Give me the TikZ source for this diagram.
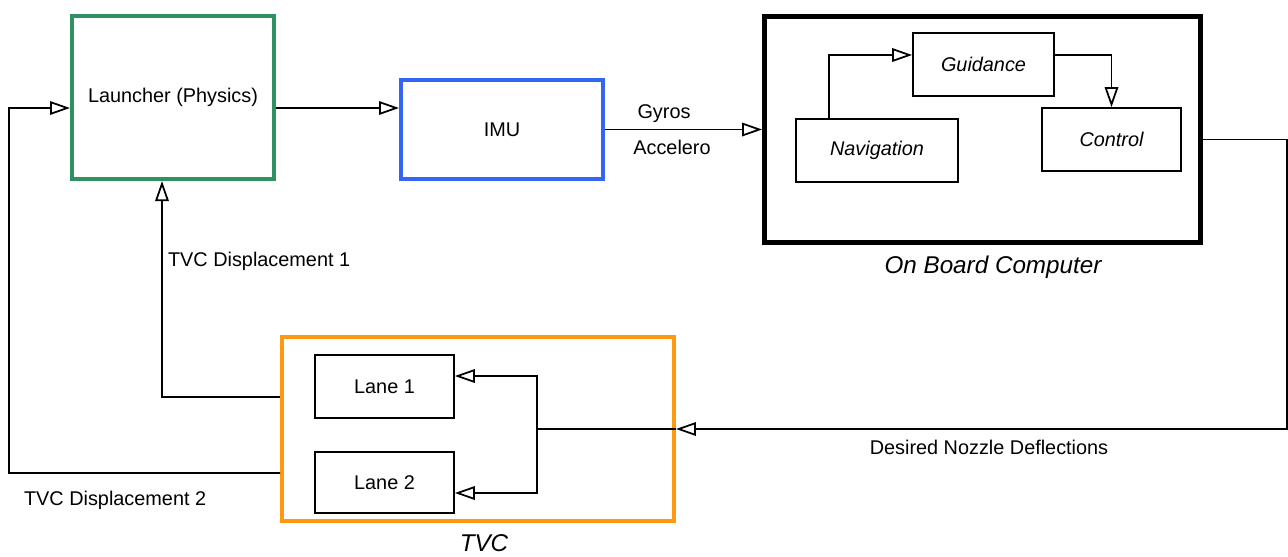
\documentclass[tikz,border=0pt]{standalone}
\usepackage{fontspec}
\setmainfont{Liberation Sans}
\usetikzlibrary{arrows.meta,positioning,calc}
\definecolor{LoopGreen}{HTML}{2E9162}
\definecolor{LoopBlue}{HTML}{3366F5}
\definecolor{LoopOrange}{HTML}{FF9A10}
\tikzset{
  block/.style={draw,line width=1pt,inner sep=0pt,font=\fontsize{11.3}{13}\selectfont},
  bigblock/.style={draw,line width=2.3pt,inner sep=0pt,font=\fontsize{11.3}{13}\selectfont},
  flow/.style={line width=0.95pt,-{Triangle[open,length=0.4cm,width=0.27cm,line width=1pt]}},
  wire/.style={line width=0.95pt},
  tag/.style={font=\fontsize{11.3}{13}\selectfont,inner sep=1pt},
  title/.style={font=\fontsize{13.8}{16}\selectfont\itshape,inner sep=1pt}
}

\begin{document}
\begin{tikzpicture}[x=0.02cm,y=-0.02cm]
    \useasboundingbox (0,0) rectangle (1288,556);
    % main blocks
    \node[bigblock,draw=LoopGreen,minimum width=4.04cm,minimum height=3.26cm] (launch) at (173,97.5) {Launcher (Physics)};
    \node[bigblock,draw=LoopBlue,minimum width=4.04cm,minimum height=1.98cm] (imu) at (502,129.5) {IMU};
    \node[bigblock,line width=2.8pt,minimum width=8.72cm,minimum height=4.52cm] (obc) at (982.5,129.5) {};
    \node[bigblock,draw=LoopOrange,minimum width=7.84cm,minimum height=3.68cm] (tvc) at (478,429) {};
    % inside the computer
    \node[block,font=\fontsize{11.3}{13}\selectfont\itshape,minimum width=2.82cm,minimum height=1.26cm] (guid) at (983.5,64.5) {Guidance};
    \node[block,font=\fontsize{11.3}{13}\selectfont\itshape,minimum width=3.24cm,minimum height=1.26cm] (nav) at (877,150.5) {Navigation};
    \node[block,font=\fontsize{11.3}{13}\selectfont\itshape,minimum width=2.78cm,minimum height=1.26cm] (ctrl) at (1111.5,139.5) {Control};
    % inside the TVC
    \node[block,minimum width=2.78cm,minimum height=1.26cm] (lane1) at (384.5,386.5) {Lane 1};
    \node[block,minimum width=2.78cm,minimum height=1.22cm] (lane2) at (384.5,482.5) {Lane 2};
    \node[title] (obcname) at (993,267) {On Board Computer};
    \node[title] (tvcname) at (484,543) {TVC};

    \coordinate (outR) at (1287,139.5);
    \coordinate (outL) at (9,473);
    \coordinate (split) at (537,429);

    % signals
    \draw[flow] ([yshift=-0.21cm]launch.east) -- ([yshift=-0.21cm]launch.east -| imu.west);
    \draw[flow] (imu) -- (obc);
    \node[tag] (gyro) at (664,114) {Gyros};
    \node[tag] (accel) at (672,147) {Accelero};
    \draw[flow] ([xshift=0.68cm]nav.north west) |- ([yshift=0.19cm]guid.west);
    \draw[flow] ([yshift=0.19cm]guid.east) -| (ctrl.north);
    \draw[flow] (obc.east |- ctrl.east) -- (outR) |- (tvc.east);
    \node[tag] (nozzle) at (989,447) {Desired Nozzle Deflections};
    \draw[wire] (tvc.east) -- (split);
    \draw[flow] (split) |- ([yshift=0.21cm]lane1.east);
    \draw[flow] (split) |- ([yshift=-0.21cm]lane2.east);
    \draw[flow] ([yshift=0.64cm]tvc.west) -| ([xshift=-0.22cm]launch.south);
    \node[tag,anchor=west] (disp1) at (166,261) {TVC Displacement 1};
    \draw[flow] ([yshift=-0.88cm]tvc.west) -- (outL) |- ([yshift=-0.21cm]launch.west);
    \node[tag,anchor=west] (disp2) at (22,500) {TVC Displacement 2};
  \end{tikzpicture}
\end{document}
